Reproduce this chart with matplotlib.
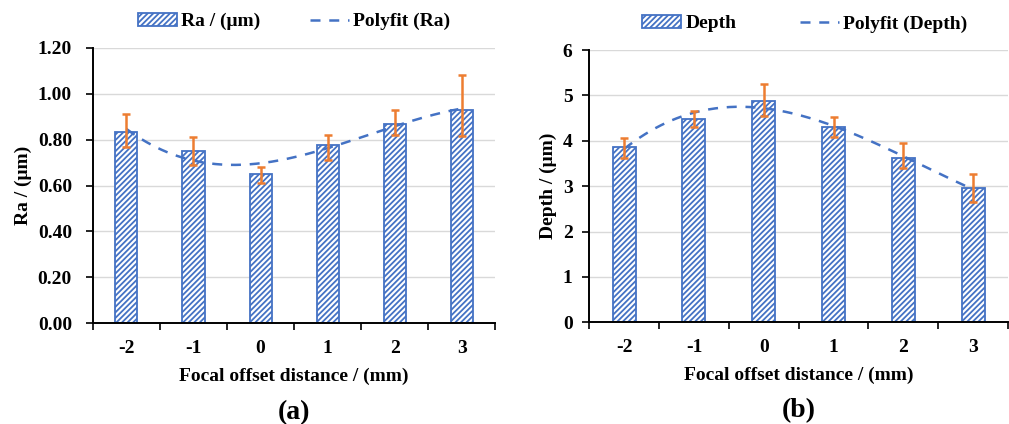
import numpy as np
import matplotlib
matplotlib.use("Agg")
import matplotlib.pyplot as plt
from matplotlib.patches import Patch
from matplotlib.lines import Line2D

plt.rcParams["font.family"] = ["Liberation Serif", "DejaVu Serif"]
plt.rcParams["font.weight"] = "bold"
plt.rcParams["hatch.color"] = "#4472C4"
plt.rcParams["hatch.linewidth"] = 1.3

# Data
offsets = [-2, -1, 0, 1, 2, 3]
ra = [0.835, 0.75, 0.65, 0.775, 0.87, 0.93]
ra_err_low = [0.065, 0.06, 0.04, 0.065, 0.05, 0.115]
ra_err_high = [0.075, 0.06, 0.03, 0.045, 0.06, 0.15]
depth = [3.86, 4.48, 4.87, 4.30, 3.61, 2.95]
depth_err_low = [0.24, 0.17, 0.32, 0.21, 0.22, 0.31]
depth_err_high = [0.19, 0.17, 0.38, 0.22, 0.35, 0.32]

blue = "#4472C4"
orange = "#ED7D31"
grid_c = "#D9D9D9"
fs = 14


def panel(ax, vals, lo, hi, ylim, yticks, yfmt, ylabel, name, fitname, tag,
          colsp, ypad, lx):
    x = np.arange(len(offsets))
    ax.bar(x, vals, width=0.33, color="white", edgecolor=blue, hatch="//////",
           linewidth=1.3, zorder=2)
    ax.errorbar(x, vals, yerr=[lo, hi], fmt="none", ecolor=orange,
                elinewidth=1.8, capsize=3, capthick=1.8, zorder=4)
    coef = np.polyfit(x, vals, 3)
    xs = np.linspace(0, len(x) - 1, 200)
    ax.plot(xs, np.polyval(coef, xs), "--", color=blue, lw=1.8,
            dashes=(4, 3.5), zorder=3)
    ax.set_xlim(-0.5, len(x) - 0.5)
    ax.set_ylim(*ylim)
    ax.set_yticks(yticks)
    ax.set_yticklabels([yfmt.format(v) for v in yticks], fontsize=fs,
                       fontweight="bold")
    ax.set_xticks(x)
    ax.set_xticklabels([str(o) for o in offsets], fontsize=fs,
                       fontweight="bold")
    ax.tick_params(axis="x", which="major", length=0, pad=12)
    ax.set_xticks(np.arange(-0.5, len(x) + 0.5, 1), minor=True)
    ax.tick_params(axis="x", which="minor", length=5, width=1.2, direction="out")
    ax.tick_params(axis="y", length=5, width=1.2, direction="out", pad=ypad)
    ax.grid(axis="y", color=grid_c, lw=1.0, zorder=0)
    ax.set_axisbelow(True)
    for s in ["top", "right"]:
        ax.spines[s].set_visible(False)
    ax.spines["left"].set_linewidth(1.4)
    ax.spines["bottom"].set_linewidth(1.4)
    ax.set_ylabel(ylabel, fontsize=fs, fontweight="bold", labelpad=4)
    ax.set_xlabel("Focal offset distance / (mm)", fontsize=fs,
                  fontweight="bold", labelpad=8)
    handles = [Patch(facecolor="white", edgecolor=blue, hatch="//////", lw=1.3),
               Line2D([0], [0], color=blue, ls="--", lw=1.8, dashes=(4, 3.5))]
    ax.legend(handles, [name, fitname], ncol=2, frameon=False,
              loc="lower center", bbox_to_anchor=(lx, 1.0),
              prop={"size": fs, "weight": "bold"}, handlelength=2.0,
              columnspacing=colsp, handletextpad=0.2, borderaxespad=0.5)
    ax.text(0.5, -0.28, tag, transform=ax.transAxes, ha="center", va="top",
            fontsize=20, fontweight="bold")


fig = plt.figure(figsize=(10.09, 4.24), dpi=100)
ax1 = fig.add_axes([0.092, 0.238, 0.399, 0.649])
ax2 = fig.add_axes([0.584, 0.240, 0.415, 0.642])

panel(ax1, ra, ra_err_low, ra_err_high, (0, 1.2),
      [0, 0.2, 0.4, 0.6, 0.8, 1.0, 1.2], "{:.2f}", "Ra / (μm)",
      "Ra / (μm)", "Polyfit (Ra)", "(a)", 2.6, 10, 0.5)
panel(ax2, depth, depth_err_low, depth_err_high, (0, 6),
      [0, 1, 2, 3, 4, 5, 6], "{:.0f}", "Depth / (μm)",
      "Depth", "Polyfit (Depth)", "(b)", 3.3, 7, 0.515)

fig.savefig("out.png", dpi=100)
